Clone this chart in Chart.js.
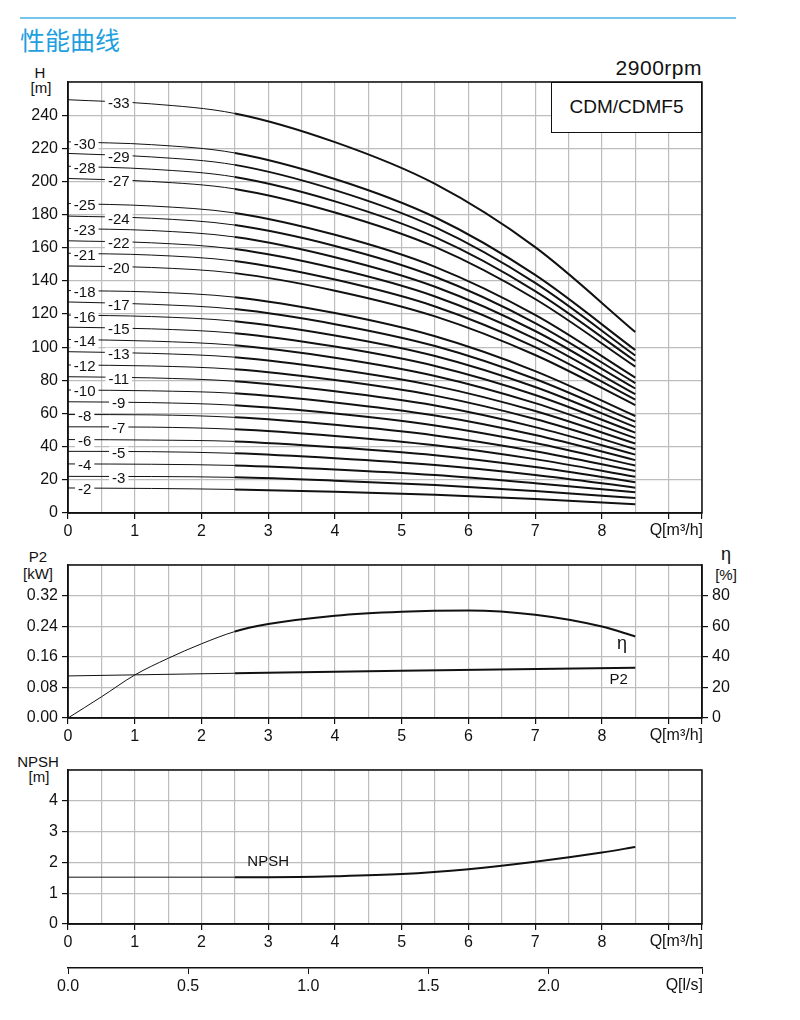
<!DOCTYPE html>
<html>
<head>
<meta charset="utf-8">
<script src="https://cdn.jsdelivr.net/npm/chart.js@4.4.1/dist/chart.umd.min.js"></script>
<style>
  body { margin: 0; background: #fff; width: 800px; height: 1020px; position: relative;
         font-family: 'Liberation Sans', Arial, sans-serif; color: #111; overflow: hidden; }
  canvas { position: absolute; left: 0; }
  .rule  { position: absolute; left: 20px; top: 17px; width: 716px; height: 2px; background: #74c6ec; }
  .title { position: absolute; left: 20px; top: 24px; font-size: 25px; line-height: 30px; color: #1f9fe0;
           font-family: 'Noto Sans CJK SC', sans-serif; }
  .lab   { position: absolute; width: 50px; text-align: center; font-size: 15px; line-height: 16px; }
  .rpm   { position: absolute; left: 540px; width: 162px; top: 55px; text-align: right; font-size: 21px;
           line-height: 26px; letter-spacing: 0.5px; }
  .model { position: absolute; left: 551px; top: 82px; width: 151px; height: 51px; box-sizing: border-box;
           border: 1.5px solid #111; background: #fff; font-size: 19px; line-height: 48px; text-align: center; }
</style>
</head>
<body>
<div class="rule"></div>
<div class="title">性能曲线</div>
<div class="rpm">2900rpm</div>

<div class="lab" style="left:15px;top:65px">H</div>
<div class="lab" style="left:16px;top:80px">[m]</div>
<div class="lab" style="left:13px;top:549px">P2</div>
<div class="lab" style="left:13px;top:566px">[kW]</div>
<div class="lab" style="left:701px;top:546px;font-size:18px">η</div>
<div class="lab" style="left:701px;top:567px">[%]</div>
<div class="lab" style="left:13px;top:754px">NPSH</div>
<div class="lab" style="left:14px;top:769px">[m]</div>

<canvas id="c-head" width="800" height="480" style="top:60px"></canvas>
<canvas id="c-eff"  width="800" height="200" style="top:545px"></canvas>
<canvas id="c-npsh" width="800" height="200" style="top:750px"></canvas>
<canvas id="c-lps"  width="800" height="50"  style="top:950px"></canvas>
<div class="model">CDM/CDMF5</div>

<script>
// ── Data ──────────────────────────────────────────────────────────────────────

const Q_MAX = 9.5;                       // m³/h, right edge of every panel

// head curves, one per stage count, read at these flows
const qHead  = [0, 1.25, 2.5, 4, 5.5, 7, 8.5];
const stages = [2, 3, 4, 5, 6, 7, 8, 9, 10, 11, 12, 13, 14, 15, 16, 17, 18,
                20, 21, 22, 23, 24, 25, 27, 28, 29, 30, 33];

const h2  = [15.1, 14.8, 14.2, 12.8, 11.0, 8.4, 5.3];
const h3  = [22.1, 22.0, 21.5, 19.5, 16.9, 13.2, 9.0];
const h4  = [29.6, 29.4, 28.7, 26.3, 22.9, 18.0, 12.5];
const h5  = [37.2, 37.0, 36.0, 33.0, 28.9, 22.9, 15.3];
const h6  = [44.3, 44.0, 43.2, 39.7, 34.9, 27.7, 18.6];
const h7  = [52.0, 51.8, 50.5, 46.5, 40.9, 32.5, 21.9];
const h8  = [59.4, 59.2, 57.7, 53.2, 46.8, 37.3, 25.3];
const h9  = [67.1, 66.6, 65.0, 60.0, 52.8, 42.2, 28.6];
const h10 = [74.2, 73.7, 72.2, 66.7, 58.8, 47.0, 31.9];
const h11 = [82.2, 81.5, 79.5, 73.4, 64.8, 51.8, 35.2];
const h12 = [89.3, 88.7, 86.7, 80.2, 70.8, 56.7, 38.5];
const h13 = [97.3, 96.3, 94.0, 86.9, 76.7, 61.5, 41.9];
const h14 = [104.7, 103.7, 101.2, 93.7, 82.7, 66.3, 45.2];
const h15 = [112.1, 111.1, 108.5, 100.4, 88.7, 71.2, 48.5];
const h16 = [119.4, 118.5, 115.7, 107.1, 94.7, 76.0, 51.8];
const h17 = [127.3, 125.9, 123.0, 113.9, 100.7, 80.8, 55.1];
const h18 = [134.2, 133.3, 130.2, 120.6, 106.6, 85.6, 58.5];
const h20 = [149.0, 148.1, 144.7, 134.1, 118.6, 95.3, 65.1];
const h21 = [156.7, 155.6, 152.0, 140.8, 124.6, 100.1, 68.4];
const h22 = [164.2, 163.0, 159.2, 147.6, 130.6, 105.0, 71.7];
const h23 = [171.6, 170.4, 166.5, 154.3, 136.5, 109.8, 75.1];
const h24 = [179.1, 177.8, 173.7, 161.1, 142.5, 114.6, 78.4];
const h25 = [186.7, 185.2, 181.0, 167.8, 148.5, 119.5, 81.7];
const h27 = [201.8, 200.0, 195.5, 181.3, 160.5, 129.1, 88.3];
const h28 = [209.2, 207.4, 202.7, 188.0, 166.4, 133.9, 91.7];
const h29 = [216.9, 214.8, 210.0, 194.8, 172.4, 138.8, 95.0];
const h30 = [223.9, 222.2, 217.2, 201.5, 178.4, 143.6, 98.3];
const h33 = [249.3, 246.8, 241.0, 223.7, 198.5, 160.4, 109.2];

const headCurves = [h2, h3, h4, h5, h6, h7, h8, h9, h10, h11, h12, h13, h14, h15,
                    h16, h17, h18, h20, h21, h22, h23, h24, h25, h27, h28, h29, h30, h33];

// efficiency [%] and shaft power [kW]
const qEta = [0, 0.5, 1, 1.5, 2, 2.5, 3, 4, 5, 6, 7, 8, 8.5];
const eta  = [0, 13.8, 28.1, 39.0, 48.5, 56.5, 61.4, 66.9, 69.5, 70.3, 67.5, 59.8, 53.3];
const qP2  = [0, 2.5, 5, 8.5];
const p2   = [0.110, 0.117, 0.1236, 0.1315];

// NPSH [m]
const qNpsh = [0, 2.5, 3, 4, 5, 6, 7, 8, 8.5];
const npsh  = [1.52, 1.52, 1.52, 1.55, 1.62, 1.78, 2.02, 2.32, 2.50];

// ── Styling helpers ───────────────────────────────────────────────────────────

const GRID  = '#bdbdbd';
const INK   = '#111';
const FONT  = "'Liberation Sans', Arial, sans-serif";
const CLEAR = 'rgba(0,0,0,0)';

Chart.defaults.font.family = FONT;
Chart.defaults.font.size   = 16;
Chart.defaults.color       = INK;
Chart.defaults.animation   = false;

const pts = (xs, ys) => xs.map((x, i) => ({ x, y: ys[i] }));

// thin up to Q = 2.5, heavier afterwards (as printed)
const seg = { borderWidth: (c) => (c.p0.parsed.x >= 2.5 ? 2 : 1) };

function line(xs, ys, extra) {
  return Object.assign({
    data: pts(xs, ys),
    borderColor: INK,
    borderWidth: 2,
    pointRadius: 0,
    cubicInterpolationMode: 'monotone',
    segment: seg,
  }, extra || {});
}

function qScale(height) {
  return {
    type: 'linear', min: 0, max: Q_MAX,
    ticks: {
      stepSize: 0.5, autoSkip: false, maxRotation: 0, padding: 3,
      callback: (v) => (Number.isInteger(v) && v <= 8 ? String(v) : ''),
    },
    grid: {
      color: GRID, lineWidth: 1.2, tickLength: 6,
      tickColor: (c) => (Number.isInteger(c.tick.value) || c.tick.value === Q_MAX ? INK : CLEAR),
    },
    border: { color: INK, width: 1.5 },
    afterFit: (s) => { s.height = height; },
  };
}

function yScale(min, max, step, width, fmt, pos) {
  return {
    type: 'linear', position: pos || 'left', min, max,
    ticks: {
      stepSize: step, padding: 4,
      callback: (v) => (v < max - step / 2 ? fmt(v) : ''),
    },
    grid: {
      color: GRID, lineWidth: 1.2, tickLength: 6,
      drawOnChartArea: pos !== 'right',
      tickColor: (c) => (c.tick.value < max - step / 2 ? INK : CLEAR),
    },
    border: { color: INK, width: 1.5 },
    afterFit: (s) => { s.width = width; },
  };
}

// frame + the Q label that replaces the last tick label
function framePlugin(qText) {
  return {
    id: 'frame',
    afterDraw(chart) {
      const { ctx, chartArea: a } = chart;
      ctx.save();
      ctx.strokeStyle = INK;
      ctx.lineWidth = 1.5;
      ctx.strokeRect(a.left, a.top, a.right - a.left, a.bottom - a.top);
      if (qText) {
        ctx.font = '16px ' + FONT;
        ctx.fillStyle = INK;
        ctx.textAlign = 'right';
        ctx.textBaseline = 'middle';
        ctx.fillText(qText, a.right + 1, a.bottom + 18);
      }
      ctx.restore();
    },
  };
}

const noLegend = { legend: { display: false }, tooltip: { enabled: false } };

// ── Head chart ────────────────────────────────────────────────────────────────

const stageLabels = {
  id: 'stageLabels',
  afterDatasetsDraw(chart) {
    const { ctx, scales } = chart;
    ctx.save();
    ctx.font = '15px ' + FONT;
    ctx.textAlign = 'center';
    ctx.textBaseline = 'middle';
    stages.forEach((n, i) => {
      const h = headCurves[i];
      const q = i % 2 === 0 ? 0.25 : 0.76;
      const v = h[0] + (h[1] - h[0]) * (q / qHead[1]);
      const x = scales.x.getPixelForValue(q);
      const y = scales.y.getPixelForValue(v) + 2;
      const t = '-' + n;
      const w = ctx.measureText(t).width;
      ctx.fillStyle = '#fff';
      ctx.fillRect(x - w / 2 - 3, y - 7, w + 6, 14);
      ctx.fillStyle = INK;
      ctx.fillText(t, x, y);
    });
    ctx.restore();
  },
};

new Chart(document.getElementById('c-head'), {
  type: 'line',
  data: {
    datasets: headCurves.map((h) => line(qHead, h)),
  },
  options: {
    responsive: false,
    layout: { padding: { top: 22, right: 98, left: 0, bottom: 0 } },
    plugins: noLegend,
    scales: {
      x: qScale(27),
      y: yScale(0, 260, 20, 68, (v) => String(v)),
    },
  },
  plugins: [stageLabels, framePlugin('Q[m³/h]')],
});

// ── P2 / efficiency chart ─────────────────────────────────────────────────────

const effLabels = {
  id: 'effLabels',
  afterDatasetsDraw(chart) {
    const { ctx, scales } = chart;
    const qEnd = qEta[qEta.length - 1];
    ctx.save();
    ctx.fillStyle = INK;
    ctx.textAlign = 'center';
    ctx.textBaseline = 'middle';
    ctx.font = '18px ' + FONT;
    ctx.fillText('η', scales.x.getPixelForValue(qEnd - 0.2),
      scales.y1.getPixelForValue(eta[eta.length - 1]) + 8);
    ctx.font = '15px ' + FONT;
    ctx.fillText('P2', scales.x.getPixelForValue(qEnd - 0.25),
      scales.y.getPixelForValue(p2[p2.length - 1]) + 12);
    ctx.restore();
  },
};

new Chart(document.getElementById('c-eff'), {
  type: 'line',
  data: {
    datasets: [
      line(qEta, eta, { yAxisID: 'y1' }),
      line(qP2, p2, { yAxisID: 'y' }),
    ],
  },
  options: {
    responsive: false,
    layout: { padding: { top: 20, right: 0, left: 0, bottom: 0 } },
    plugins: noLegend,
    scales: {
      x: qScale(27),
      y: yScale(0, 0.40, 0.08, 68, (v) => v.toFixed(2)),
      y1: yScale(0, 100, 20, 98, (v) => String(Math.round(v)), 'right'),
    },
  },
  plugins: [effLabels, framePlugin('Q[m³/h]')],
});

// ── NPSH chart ────────────────────────────────────────────────────────────────

const npshLabel = {
  id: 'npshLabel',
  afterDatasetsDraw(chart) {
    const { ctx, scales } = chart;
    ctx.save();
    ctx.fillStyle = INK;
    ctx.font = '15px ' + FONT;
    ctx.textAlign = 'center';
    ctx.textBaseline = 'middle';
    ctx.fillText('NPSH', scales.x.getPixelForValue(3), scales.y.getPixelForValue(npsh[2]) - 15);
    ctx.restore();
  },
};

new Chart(document.getElementById('c-npsh'), {
  type: 'line',
  data: { datasets: [line(qNpsh, npsh)] },
  options: {
    responsive: false,
    layout: { padding: { top: 20, right: 98, left: 0, bottom: 0 } },
    plugins: noLegend,
    scales: {
      x: qScale(26),
      y: yScale(0, 5, 1, 68, (v) => String(v)),
    },
  },
  plugins: [npshLabel, framePlugin('Q[m³/h]')],
});

// ── Q in l/s (second flow axis) ───────────────────────────────────────────────

const lpsMax = Q_MAX / 3.6;

new Chart(document.getElementById('c-lps'), {
  type: 'line',
  data: { datasets: [] },
  options: {
    responsive: false,
    layout: { padding: { top: 0, right: 98, left: 68, bottom: 0 } },
    plugins: noLegend,
    scales: {
      x: {
        type: 'linear', min: 0, max: lpsMax,
        ticks: {
          stepSize: 0.5, autoSkip: false, maxRotation: 0, padding: 3,
          callback: (v) => (v <= 2.01 ? v.toFixed(1) : ''),
        },
        grid: { drawOnChartArea: false, tickLength: 6, tickColor: INK },
        border: { color: INK, width: 1.5 },
        afterFit: (s) => { s.height = 32; },
      },
      y: { display: false },
    },
  },
  plugins: [{
    id: 'lpsLabel',
    afterDraw(chart) {
      const { ctx, chartArea: a } = chart;
      ctx.save();
      ctx.font = '16px ' + FONT;
      ctx.fillStyle = INK;
      ctx.textAlign = 'right';
      ctx.textBaseline = 'middle';
      ctx.fillText('Q[l/s]', a.right + 1, a.bottom + 18);
      ctx.restore();
    },
  }],
});
</script>
</body>
</html>
